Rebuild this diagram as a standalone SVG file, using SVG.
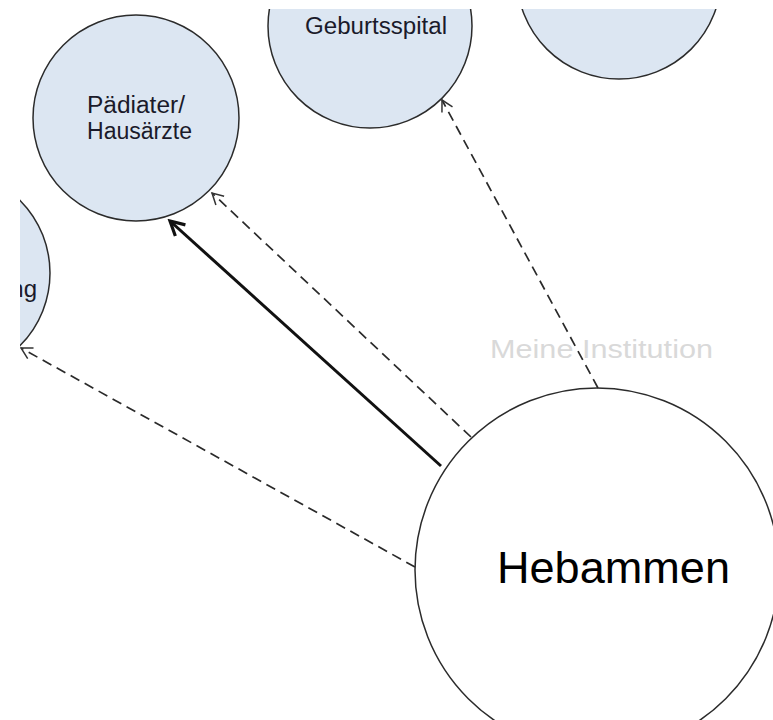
<svg xmlns="http://www.w3.org/2000/svg" width="773" height="720" viewBox="0 0 773 720">
  <defs>
    <clipPath id="frame"><rect x="20" y="9" width="753" height="711"/></clipPath>
    <marker id="openThin" markerUnits="userSpaceOnUse" viewBox="-14 -8 16 16" refX="0" refY="0" markerWidth="16" markerHeight="16" orient="auto">
      <path d="M-11,-6 L0,0 L-11,6" fill="none" stroke="#333" stroke-width="1.5" stroke-dasharray="none"/>
    </marker>
    <marker id="openThick" markerUnits="userSpaceOnUse" viewBox="-17 -11 20 22" refX="0" refY="0" markerWidth="20" markerHeight="22" orient="auto">
      <path d="M-14,-7.5 L0,0 L-14,7.5" fill="none" stroke="#111" stroke-width="3.2" stroke-dasharray="none" stroke-linejoin="miter"/>
    </marker>
    <style>
      .node { fill: #dce6f2; stroke: #2b2b2b; stroke-width: 1.5; }
      .main { fill: #ffffff; stroke: #2b2b2b; stroke-width: 1.5; }
      .lbl { font-family: "Liberation Sans", Arial, sans-serif; fill: #1a1a2a; }
      .dash { fill: none; stroke: #2a2a2a; stroke-width: 1.7; stroke-dasharray: 10 6; marker-end: url(#openThin); }
      .solid { fill: none; stroke: #111; stroke-width: 3; marker-end: url(#openThick); }
    </style>
  </defs>
  <rect x="0" y="0" width="773" height="720" fill="#ffffff"/>
  <g clip-path="url(#frame)">
    <g id="node-beratung">
      <circle class="node" cx="-53" cy="273" r="103"/>
      <text class="lbl" x="37" y="297" font-size="24" text-anchor="end">ng</text>
    </g>
    <g id="node-paediater">
      <circle class="node" cx="136" cy="118" r="103"/>
      <text class="lbl" x="87" y="113" font-size="23" textLength="98" lengthAdjust="spacingAndGlyphs">Pädiater/</text>
      <text class="lbl" x="87" y="139" font-size="23" textLength="105" lengthAdjust="spacingAndGlyphs">Hausärzte</text>
    </g>
    <g id="node-geburtsspital">
      <circle class="node" cx="370" cy="26" r="102"/>
      <text class="lbl" x="305" y="34" font-size="23" textLength="142" lengthAdjust="spacingAndGlyphs">Geburtsspital</text>
    </g>
    <g id="node-topright">
      <circle class="node" cx="619" cy="-23" r="102"/>
    </g>
    <g id="node-hebammen">
      <circle class="main" cx="597" cy="570" r="182"/>
      <text class="lbl" x="497" y="583" font-size="44" style="fill:#000" textLength="233" lengthAdjust="spacingAndGlyphs">Hebammen</text>
    </g>
    <g id="watermark">
      <text x="490" y="358" font-size="25" font-family="Liberation Sans, Arial, sans-serif" fill="#d9d9d9" textLength="223" lengthAdjust="spacingAndGlyphs">Meine Institution</text>
    </g>
    <g id="connectors">
      <line class="dash" x1="598" y1="388" x2="442" y2="100"/>
      <line class="dash" x1="471" y1="437" x2="212" y2="193"/>
      <line class="solid" x1="441" y1="466" x2="170" y2="221"/>
      <line class="dash" x1="415" y1="567" x2="21" y2="348"/>
    </g>
  </g>
</svg>
